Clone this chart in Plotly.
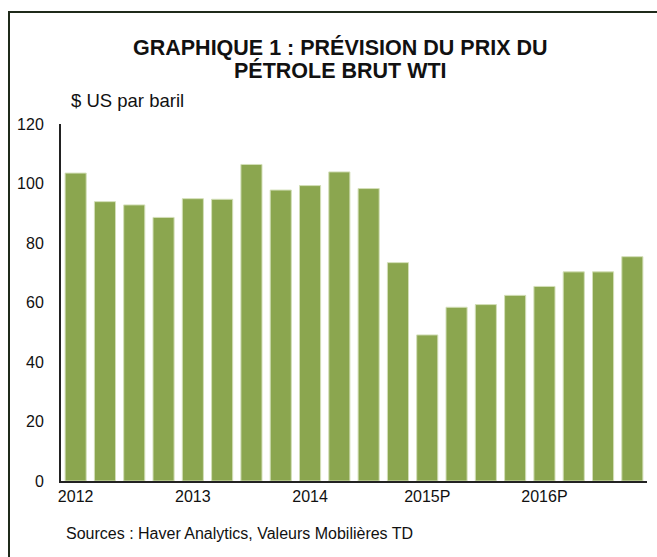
import plotly.graph_objects as go

quarters = ["2012T1","2012T2","2012T3","2012T4","2013T1","2013T2","2013T3","2013T4",
            "2014T1","2014T2","2014T3","2014T4","2015T1","2015T2","2015T3","2015T4",
            "2016T1","2016T2","2016T3","2016T4"]
prices = [103.5, 93.9, 92.8, 88.6, 94.9, 94.7, 106.4, 97.8, 99.3, 103.9, 98.3,
          73.4, 49.1, 58.4, 59.3, 62.4, 65.4, 70.3, 70.3, 75.4]
tick_positions = [0, 4, 8, 12, 16]
tick_labels = ["2012", "2013", "2014", "2015P", "2016P"]
y_ticks = [0, 20, 40, 60, 80, 100, 120]

W, H = 657, 557
L, R, T, B = 61, 10, 124, 76
pw, ph = W - L - R, H - T - B

def px(x):
    return (x - L) / pw

def py(y):
    return (H - B - y) / ph

fig = go.Figure()
fig.add_trace(go.Bar(
    x=list(range(len(quarters))), y=prices,
    customdata=quarters,
    marker=dict(color="#8BA64F", line=dict(color="#d3dfb8", width=1)),
    width=0.72,
    hovertemplate="%{customdata}: %{y}<extra></extra>",
))

font = "Liberation Sans, Arial, sans-serif"
fig.update_layout(
    width=W, height=H,
    margin=dict(l=L, r=R, t=T, b=B),
    paper_bgcolor="white", plot_bgcolor="white",
    showlegend=False,
    font=dict(family=font, size=16, color="#111111"),
    xaxis=dict(range=[-0.5, 19.5], tickvals=tick_positions, ticktext=tick_labels,
               showgrid=False, zeroline=False, showline=True, linecolor="#222222",
               linewidth=2, ticks="", tickfont=dict(size=16)),
    yaxis=dict(range=[0, 120], tickvals=y_ticks, showgrid=False, zeroline=False,
               showline=True, linecolor="#222222", linewidth=2, ticks="",
               ticklabelstandoff=12, tickfont=dict(size=16)),
    shapes=[dict(type="rect", xref="paper", yref="paper",
                 x0=px(9), x1=px(670), y0=py(600), y1=py(12),
                 line=dict(color="#1f2a1a", width=2), fillcolor="rgba(0,0,0,0)",
                 layer="below")],
    annotations=[
        dict(text="<b>GRAPHIQUE 1 : PRÉVISION DU PRIX DU</b>",
             xref="paper", yref="paper", x=px(340), y=py(47.5), xanchor="center",
             yanchor="middle", showarrow=False,
             font=dict(size=21.5, family=font, color="#111111")),
        dict(text="<b>PÉTROLE BRUT WTI</b>",
             xref="paper", yref="paper", x=px(340), y=py(70.5), xanchor="center",
             yanchor="middle", showarrow=False,
             font=dict(size=21.5, family=font, color="#111111")),
        dict(text="$ US par baril", xref="paper", yref="paper", x=px(69), y=py(100),
             xanchor="left", yanchor="middle", showarrow=False,
             font=dict(size=18.5, family=font, color="#111111")),
        dict(text="Sources : Haver Analytics, Valeurs Mobilières TD", xref="paper",
             yref="paper", x=px(64), y=py(533), xanchor="left", yanchor="middle",
             showarrow=False, font=dict(size=16, family=font, color="#111111")),
    ],
)

fig.write_html("out.html", config={"displayModeBar": False},
               post_script="document.body.style.margin='0';document.body.style.overflow='hidden';")
